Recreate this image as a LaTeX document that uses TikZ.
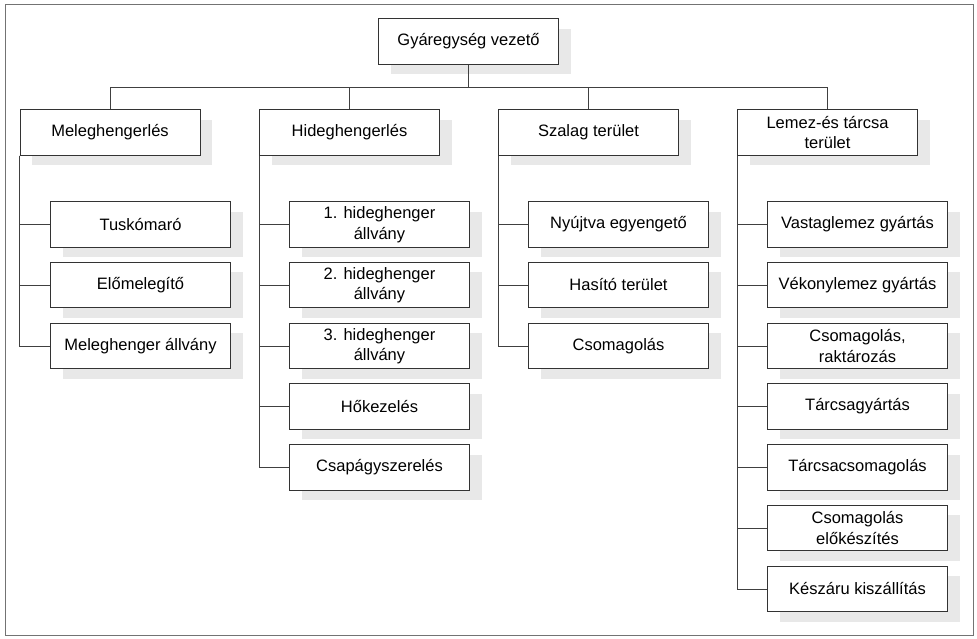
\documentclass[tikz,border=0pt]{standalone}
\usepackage{fontspec}
\setmainfont{Liberation Sans}
\usetikzlibrary{shadows}
\begin{document}
\begin{tikzpicture}[x=1pt,y=-1pt,
  unit/.style={draw=black!80, line width=0.9pt, fill=white,
    minimum width=180pt, minimum height=45.5pt, inner sep=2pt,
    align=center, font=\fontsize{16.5}{20.5}\selectfont,
    drop shadow={shadow xshift=12pt, shadow yshift=-10pt, fill=black!9, opacity=1}},
  link/.style={draw=black!75, line width=0.8pt},
  frame/.style={draw=black!55, line width=0.7pt}]
\useasboundingbox (0,0) rectangle (977,639);
\draw[frame] (5,4) rectangle (973,635);

% top of the hierarchy
\node[unit] (top) at (468.5,41.5) {Gyáregység vezető};
\coordinate (bus) at (0,87);

% departments
\node[unit] (meleg)  at (110,132.5)   {Meleghengerlés};
\node[unit] (hideg)  at (349.5,132.5) {Hideghengerlés};
\node[unit] (szalag) at (588.5,132.5) {Szalag terület};
\node[unit] (lemez)  at (827.5,132.5) {Lemez-és tárcsa\\terület};

% hot rolling
\node[unit] (m1) at (140.5,224.5) {Tuskómaró};
\node[unit] (m2) at (140.5,285)   {Előmelegítő};
\node[unit] (m3) at (140.5,346)   {Meleghenger állvány};

% cold rolling
\node[unit] (h1) at (379.5,224.5) {1. hideghenger\\állvány};
\node[unit] (h2) at (379.5,285)   {2. hideghenger\\állvány};
\node[unit] (h3) at (379.5,346)   {3. hideghenger\\állvány};
\node[unit] (h4) at (379.5,406.5) {Hőkezelés};
\node[unit] (h5) at (379.5,467.5) {Csapágyszerelés};

% strip area
\node[unit] (s1) at (618.5,224.5) {Nyújtva egyengető};
\node[unit] (s2) at (618.5,285)   {Hasító terület};
\node[unit] (s3) at (618.5,346)   {Csomagolás};

% plate and disc area
\node[unit] (l1) at (857.5,224.5) {Vastaglemez gyártás};
\node[unit] (l2) at (857.5,285)   {Vékonylemez gyártás};
\node[unit] (l3) at (857.5,346)   {Csomagolás,\\raktározás};
\node[unit] (l4) at (857.5,406.5) {Tárcsagyártás};
\node[unit] (l5) at (857.5,467.5) {Tárcsacsomagolás};
\node[unit] (l6) at (857.5,528)   {Csomagolás\\előkészítés};
\node[unit] (l7) at (857.5,589)   {Készáru kiszállítás};

% connectors from the head to the departments
\draw[link] (top.south) -- (top.south |- bus);
\draw[link] (meleg.north) -- (meleg.north |- bus) -- (lemez.north |- bus) -- (lemez.north);
\draw[link] (hideg.north) -- (hideg.north |- bus);
\draw[link] (szalag.north) -- (szalag.north |- bus);

% connectors from each department to its units
\foreach \p/\c in {meleg/m1, meleg/m2, meleg/m3,
                   hideg/h1, hideg/h2, hideg/h3, hideg/h4, hideg/h5,
                   szalag/s1, szalag/s2, szalag/s3,
                   lemez/l1, lemez/l2, lemez/l3, lemez/l4, lemez/l5, lemez/l6, lemez/l7}
  \draw[link] (\p.south west) |- (\c.west);
\end{tikzpicture}
\end{document}
